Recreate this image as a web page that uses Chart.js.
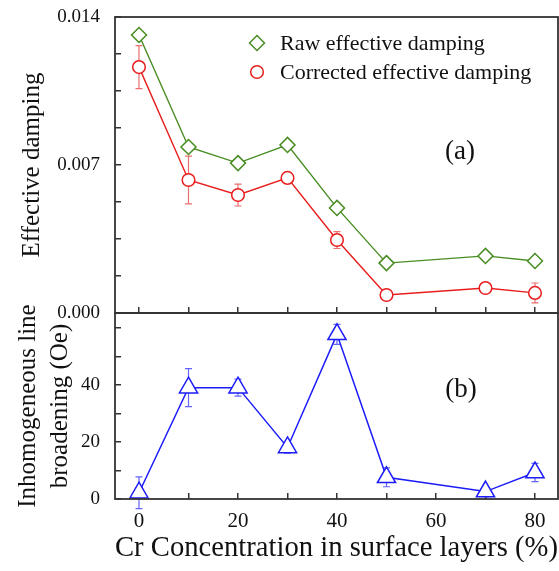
<!DOCTYPE html>
<html>
<head>
<meta charset="utf-8">
<script src="https://cdn.jsdelivr.net/npm/chart.js@4.4.1/dist/chart.umd.min.js"></script>
<style>
  html, body { margin: 0; padding: 0; background: #fff; }
  #wrap { position: relative; width: 559px; height: 571px; }
  canvas { position: absolute; left: 0; }
  #chart-damping { top: 0; }
  #chart-broadening { top: 303px; }
</style>
</head>
<body>
<div id="wrap">
  <canvas id="chart-damping" width="559" height="320"></canvas>
  <canvas id="chart-broadening" width="559" height="268"></canvas>
</div>
<script>
// Cr concentration (%)
const cr_conc = [0, 10, 20, 30, 40, 50, 70, 80];

// (a) effective damping
const raw_damping = [0.01315, 0.00785, 0.00709, 0.00795, 0.00497, 0.00236, 0.0027, 0.00246];
const corr_damping = [0.01163, 0.00629, 0.00558, 0.00639, 0.00345, 0.00085, 0.00118, 0.00095];
const corr_damping_err = [0.00102, 0.00113, 0.00052, 0.0002, 0.0004, 0.0001, 0.0001, 0.00047];

// (b) inhomogeneous line broadening (Oe)
const broadening = [2.2, 39.1, 39.1, 18.1, 57.8, 7.6, 2.6, 9.3];
const broadening_err = [5.6, 6.7, 3, 2, 3.5, 3.3, 1.8, 3.2];

// ticks
const x_ticks = [0, 10, 20, 30, 40, 50, 60, 70, 80];
const x_tick_labels = ['0', '', '20', '', '40', '', '60', '', '80'];
const ya_ticks = [0, 0.00175, 0.0035, 0.00525, 0.007, 0.00875, 0.0105, 0.01225, 0.014];
const ya_tick_labels = ['0.000', '', '', '', '0.007', '', '', '', '0.014'];
const yb_ticks = [0, 10, 20, 30, 40, 50, 60];
const yb_tick_labels = ['0', '', '20', '', '40', '', ''];

const serif = "'Liberation Serif', 'DejaVu Serif', serif";
const frame_color = '#333';
const green = 'rgb(72, 140, 34)';
const red = 'rgb(232, 28, 28)';
const blue = 'rgb(28, 28, 250)';

const toPoints = (xs, ys) => xs.map((x, i) => ({ x: x, y: ys[i] }));

// frame round the plot area + panel letter
const framePlugin = {
    id: 'frame',
    afterDraw(chart, args, opts) {
        const { ctx, chartArea: a } = chart;
        ctx.save();
        ctx.strokeStyle = frame_color;
        ctx.lineWidth = 1.8;
        ctx.strokeRect(a.left, a.top, a.right - a.left, a.bottom - a.top);
        if (opts.letter) {
            ctx.fillStyle = '#111';
            ctx.font = '27px ' + serif;
            ctx.textAlign = 'center';
            ctx.textBaseline = 'middle';
            ctx.fillText(opts.letter, opts.lx, opts.ly);
        }
        ctx.restore();
    }
};

// error bars from the dataset's err array
const errorBarPlugin = {
    id: 'errorBars',
    beforeDatasetsDraw(chart) {
        const { ctx } = chart;
        const xs = chart.scales.x, ys = chart.scales.y;
        chart.data.datasets.forEach(ds => {
            if (!ds.err) return;
            ctx.save();
            ctx.strokeStyle = ds.errColor;
            ctx.lineWidth = 1.2;
            ds.data.forEach((p, i) => {
                const e = ds.err[i];
                const px = xs.getPixelForValue(p.x);
                const top = ys.getPixelForValue(p.y + e);
                const bot = ys.getPixelForValue(p.y - e);
                ctx.beginPath();
                ctx.moveTo(px, top); ctx.lineTo(px, bot);
                ctx.moveTo(px - 3.5, top); ctx.lineTo(px + 3.5, top);
                ctx.moveTo(px - 3.5, bot); ctx.lineTo(px + 3.5, bot);
                ctx.stroke();
            });
            ctx.restore();
        });
    }
};

// legend inside panel (a)
const innerLegendPlugin = {
    id: 'innerLegend',
    afterDraw(chart) {
        const { ctx } = chart;
        ctx.save();
        chart.data.datasets.forEach((ds, i) => {
            const y = 43 + i * 29;
            ctx.strokeStyle = ds.borderColor;
            ctx.fillStyle = '#fff';
            ctx.lineWidth = 1.5;
            Chart.helpers.drawPoint(ctx, { pointStyle: ds.pointStyle, radius: ds.pointRadius, borderWidth: 1.5 }, 257, y);
            ctx.fillStyle = '#111';
            ctx.font = '22px ' + serif;
            ctx.textAlign = 'left';
            ctx.textBaseline = 'middle';
            ctx.fillText(ds.label, 280, y + 1);
        });
        ctx.restore();
    }
};

// no extra room for end labels, the plot area is fixed by layout padding
const fitX = h => s => { s.height = h; s.paddingLeft = 0; s.paddingRight = 0; };
const fitY = s => { s.width = 115; s.paddingTop = 0; s.paddingBottom = 0; };

const xScale = (showLabels) => ({
    type: 'linear',
    min: -4.85,
    max: 84.65,
    afterBuildTicks: s => { s.ticks = x_ticks.map(v => ({ value: v })); },
    border: { display: false },
    grid: { drawOnChartArea: false, tickLength: -6, color: frame_color, lineWidth: 1.5 },
    ticks: {
        display: showLabels,
        padding: 16,
        color: '#111',
        font: { family: serif, size: 21 },
        callback: (v, i) => x_tick_labels[i]
    }
});

// Chart (a) effective damping
new Chart(document.getElementById('chart-damping'), {
    type: 'line',
    data: {
        datasets: [{
            label: 'Raw effective damping',
            data: toPoints(cr_conc, raw_damping),
            borderColor: green,
            backgroundColor: '#fff',
            pointStyle: 'rectRot',
            pointRadius: 7.5,
            pointBorderWidth: 1.5,
            borderWidth: 1.4
        }, {
            label: 'Corrected effective damping',
            data: toPoints(cr_conc, corr_damping),
            err: corr_damping_err,
            errColor: 'rgb(236, 110, 110)',
            borderColor: red,
            backgroundColor: '#fff',
            pointStyle: 'circle',
            pointRadius: 6.3,
            pointBorderWidth: 1.5,
            borderWidth: 1.4
        }]
    },
    options: {
        responsive: false,
        animation: false,
        layout: { autoPadding: false, padding: { top: 17, right: 1, bottom: 7, left: 0 } },
        scales: {
            x: Object.assign(xScale(false), { afterFit: fitX(0) }),
            y: {
                min: 0,
                max: 0.014,
                afterBuildTicks: s => { s.ticks = ya_ticks.map(v => ({ value: v })); },
                afterFit: fitY,
                border: { display: false },
                grid: { drawOnChartArea: false, tickLength: -6, color: frame_color, lineWidth: 1.5 },
                ticks: {
                    padding: 21,
                    color: '#111',
                    font: { family: serif, size: 19 },
                    callback: (v, i) => ya_tick_labels[i]
                },
                title: {
                    display: true,
                    text: 'Effective damping',
                    color: '#111',
                    font: { family: serif, size: 25 },
                    padding: { top: 17, bottom: 0 }
                }
            }
        },
        plugins: {
            legend: { display: false },
            tooltip: { enabled: false },
            frame: { letter: '(a)', lx: 460, ly: 152 }
        }
    },
    plugins: [errorBarPlugin, framePlugin, innerLegendPlugin]
});

// Chart (b) inhomogeneous line broadening
new Chart(document.getElementById('chart-broadening'), {
    type: 'line',
    data: {
        datasets: [{
            label: 'Inhomogeneous line broadening',
            data: toPoints(cr_conc, broadening),
            err: broadening_err,
            errColor: 'rgb(100, 100, 250)',
            borderColor: blue,
            backgroundColor: '#fff',
            pointStyle: 'triangle',
            pointRadius: 10.5,
            pointBorderWidth: 1.5,
            borderWidth: 1.5
        }]
    },
    options: {
        responsive: false,
        animation: false,
        layout: { autoPadding: false, padding: { top: 10, right: 1, bottom: 0, left: 0 } },
        scales: {
            x: Object.assign(xScale(true), {
                afterFit: fitX(72),
                title: {
                    display: true,
                    text: 'Cr Concentration in surface layers (%)',
                    color: '#111',
                    font: { family: serif, size: 29 },
                    padding: { top: 0, bottom: 5 }
                }
            }),
            y: {
                min: 0,
                max: 65.3,
                afterBuildTicks: s => { s.ticks = yb_ticks.map(v => ({ value: v })); },
                afterFit: fitY,
                border: { display: false },
                grid: { drawOnChartArea: false, tickLength: -6, color: frame_color, lineWidth: 1.5 },
                ticks: {
                    padding: 21,
                    color: '#111',
                    font: { family: serif, size: 19 },
                    callback: (v, i) => yb_tick_labels[i]
                },
                title: {
                    display: true,
                    text: ['Inhomogeneous line', 'broadening (Oe)'],
                    color: '#111',
                    font: { family: serif, size: 25, lineHeight: 1.28 },
                    padding: { top: 12, bottom: 0 }
                }
            }
        },
        plugins: {
            legend: { display: false },
            tooltip: { enabled: false },
            frame: { letter: '(b)', lx: 461, ly: 390 - 303 }
        }
    },
    plugins: [errorBarPlugin, framePlugin]
});
</script>
</body>
</html>
